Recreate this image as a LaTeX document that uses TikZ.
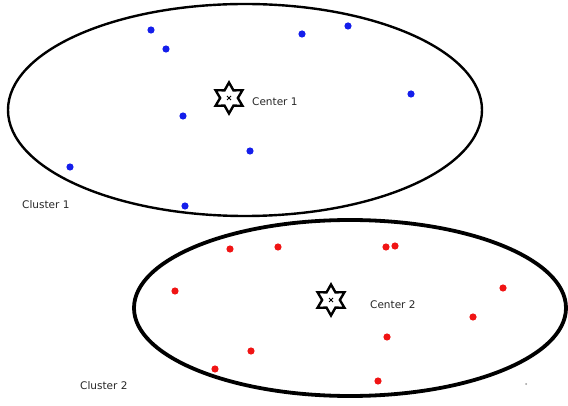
\documentclass[tikz,border=0pt]{standalone}
\usepackage{fontspec}
\setmainfont{DejaVu Sans}
\usetikzlibrary{shapes.geometric}
\definecolor{bluedot}{RGB}{20,30,235}
\definecolor{reddot}{RGB}{240,20,20}
\tikzset{
  centerstar/.style={star, star points=6, star point ratio=1.75, draw=black, fill=white,
    line width=2.4pt, minimum size=31pt, inner sep=0pt},
  tag/.style={text=black!85, font=\fontsize{10.5}{12}\selectfont, inner sep=0pt, anchor=west}
}

\begin{document}
\begin{tikzpicture}[x=1pt, y=-1pt]
  \useasboundingbox (0,0) rectangle (568,406);
  \draw [line width=2.4pt] (245,110) ellipse [x radius=237, y radius=106];
  \draw [line width=3.8pt] (350,308) ellipse [x radius=216, y radius=88];
  \foreach \p in {(151,30),(166,49),(302,34),(348,26),(411,94),(183,116),(250,151),(70,167),(185,206)}
    \fill [bluedot] \p circle (3.6);
  \foreach \p in {(230,249),(278,247),(386,247),(395,246),(175,291),(503,288),(473,317),(387,337),(251,351),(215,369),(378,381)}
    \fill [reddot] \p circle (3.6);
  \fill [black!40] (526,384) circle (1);
  \node [centerstar] (c1) at (229,98) {};
  \node [centerstar] (c2) at (331,300) {};
  \foreach \c in {c1,c2} {
    \draw [line width=1pt] ([shift={(-2,-2)}]\c.center) -- ([shift={(2,2)}]\c.center);
    \draw [line width=1pt] ([shift={(-2,2)}]\c.center) -- ([shift={(2,-2)}]\c.center);
  }
  \node [tag] (l1) at (252,102) {Center 1};
  \node [tag] (l2) at (370,305) {Center 2};
  \node [tag] (k1) at (22,205) {Cluster 1};
  \node [tag] (k2) at (80,386) {Cluster 2};
\end{tikzpicture}
\end{document}
